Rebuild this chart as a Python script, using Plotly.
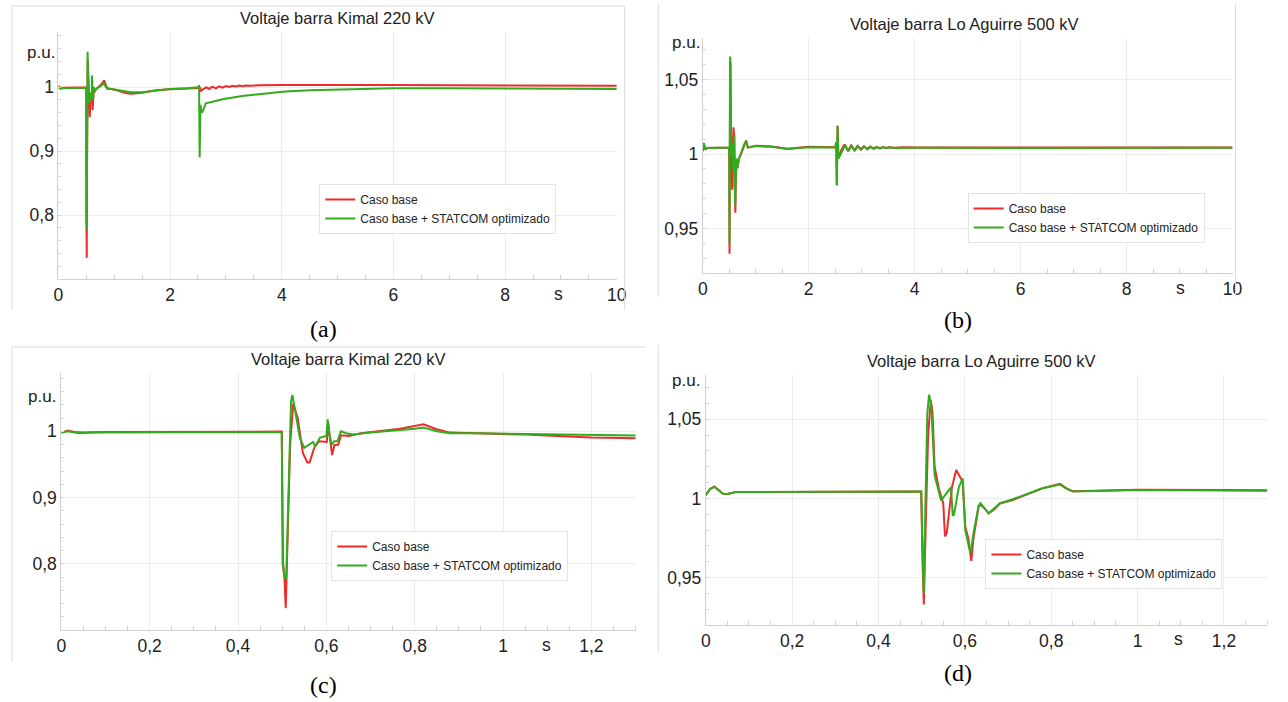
import plotly.graph_objects as go

W, H = 1288, 702

# Kimal 220 kV - Caso base
kimal_t_base = [0, 0.015, 0.03, 0.05, 0.1, 0.3, 0.499, 0.502, 0.505, 0.508, 0.512, 0.518, 0.525, 0.535,
                0.547, 0.557, 0.562, 0.573, 0.584, 0.601, 0.604, 0.608, 0.613, 0.618, 0.627, 0.633, 0.651,
                0.678, 0.767, 0.82, 0.85, 0.88, 0.95, 1.05, 1.2, 1.3, 1.5, 1.75, 2.0, 2.3, 2.52, 2.53, 2.55,
                2.6, 2.65, 2.7, 2.76, 2.82, 2.88, 2.94, 3.0, 3.06, 3.12, 3.18, 3.24, 3.30, 3.36, 3.45, 3.6,
                4.0, 4.3, 5.0, 6.0, 7.0, 8.0, 10.0]
kimal_v_base = [0.998, 1.001, 0.999, 0.998, 0.999, 0.9995, 0.9995, 0.80, 0.78, 0.733, 0.85, 0.98, 1.042, 1.02,
                0.967, 0.953, 0.953, 0.976, 0.985, 0.984, 1.012, 0.99, 0.964, 0.979, 0.98, 0.994, 0.993,
                0.997, 1.004, 1.0106, 1.003, 0.998, 0.997, 0.995, 0.9905, 0.9895, 0.991, 0.995, 0.9965, 0.997,
                0.9985, 1.0, 0.994, 0.997, 0.9995, 0.997, 1.0005, 0.998, 1.001, 0.999, 1.0015, 1.0, 1.002,
                1.0008, 1.0023, 1.0013, 1.0025, 1.002, 1.0028, 1.003, 1.0033, 1.0031, 1.003, 1.0027, 1.0024,
                1.002]

# Kimal 220 kV - Caso base + STATCOM optimizado
kimal_t_stat = [0, 0.015, 0.04, 0.07, 0.3, 0.499, 0.501, 0.505, 0.509, 0.514, 0.52, 0.523, 0.53, 0.54, 0.55,
                0.56, 0.57, 0.575, 0.585, 0.6, 0.603, 0.607, 0.612, 0.618, 0.625, 0.633, 0.645, 0.66, 0.7, 0.8,
                0.82, 0.85, 0.88, 0.95, 1.1, 1.3, 1.5, 1.75, 2.0, 2.3, 2.5, 2.52, 2.53, 2.545, 2.56, 2.58, 2.64,
                2.76, 2.94, 3.29, 3.6, 4.06, 4.5, 5.24, 6.0, 7.0, 8.0, 10.0]
kimal_v_stat = [0.998, 1.0, 0.997, 0.998, 0.9985, 0.9985, 0.80, 0.78, 0.777, 0.90, 1.045, 1.055, 1.03, 0.99,
                0.975, 0.979, 0.984, 0.977, 0.99, 0.993, 1.018, 0.995, 0.98, 0.985, 0.985, 1.0, 0.997, 0.995,
                0.998, 1.004, 1.0056, 1.0, 0.997, 0.997, 0.995, 0.992, 0.992, 0.995, 0.997, 0.998, 0.9995,
                1.003, 0.89, 0.972, 0.962, 0.961, 0.9745, 0.977, 0.981, 0.986, 0.989, 0.993, 0.995, 0.997,
                0.998, 0.9982, 0.998, 0.997]

# Lo Aguirre 500 kV - Caso base
aguirre_t_base = [0, 0.01, 0.02, 0.03, 0.04, 0.05, 0.07, 0.1, 0.3, 0.499, 0.502, 0.505, 0.51, 0.515, 0.521,
                  0.525, 0.53, 0.54, 0.55, 0.554, 0.558, 0.57, 0.58, 0.595, 0.601, 0.608, 0.615, 0.62, 0.632,
                  0.636, 0.645, 0.655, 0.668, 0.681, 0.711, 0.78, 0.82, 0.835, 0.85, 0.9, 1.0, 1.2, 1.3, 1.6,
                  2.0, 2.5, 2.52, 2.53, 2.545, 2.56, 2.62, 2.68, 2.74, 2.80, 2.86, 2.92, 2.98, 3.04, 3.10,
                  3.16, 3.22, 3.28, 3.34, 3.40, 3.46, 3.52, 3.6, 3.8, 4.0, 6.0, 8.0, 10.0]
aguirre_v_base = [1.002, 1.006, 1.0075, 1.0055, 1.003, 1.0028, 1.004, 1.004, 1.0043, 1.0043, 0.96, 0.933,
                  0.99, 1.04, 1.062, 1.055, 1.02, 1.006, 0.997, 0.976, 0.978, 1.007, 1.018, 1.0105, 0.982,
                  0.975, 0.9605, 0.975, 0.995, 0.996, 0.994, 0.9906, 0.993, 0.9968, 0.999, 1.0064, 1.0092,
                  1.0065, 1.0045, 1.0048, 1.0055, 1.0053, 1.005, 1.0035, 1.0048, 1.0045, 1.008, 0.979, 1.019,
                  0.997, 1.003, 1.0065, 1.002, 1.0058, 1.0025, 1.0055, 1.003, 1.0052, 1.0033, 1.005, 1.0036,
                  1.0048, 1.0038, 1.0047, 1.004, 1.0046, 1.0042, 1.0045, 1.0044, 1.0043, 1.0044, 1.0044]

# Lo Aguirre 500 kV - Caso base + STATCOM optimizado
aguirre_t_stat = [0, 0.01, 0.02, 0.03, 0.04, 0.05, 0.07, 0.1, 0.3, 0.499, 0.502, 0.505, 0.509, 0.513, 0.517,
                  0.522, 0.53, 0.545, 0.568, 0.572, 0.575, 0.586, 0.595, 0.601, 0.613, 0.62, 0.632, 0.636,
                  0.655, 0.681, 0.711, 0.78, 0.82, 0.835, 0.85, 1.0, 1.3, 1.6, 2.0, 2.5, 2.52, 2.53, 2.545,
                  2.56, 2.63, 2.69, 2.75, 2.81, 2.87, 2.93, 2.99, 3.05, 3.11, 3.17, 3.23, 3.29, 3.35, 3.41,
                  3.47, 3.53, 3.6, 3.8, 4.0, 6.0, 8.0, 10.0]
aguirre_v_stat = [1.002, 1.006, 1.0072, 1.0053, 1.003, 1.0028, 1.004, 1.004, 1.0043, 1.0043, 0.97, 0.94,
                  1.0, 1.053, 1.0656, 1.06, 1.0146, 0.9987, 1.007, 0.989, 0.99, 1.007, 1.0127, 0.98, 0.965,
                  0.978, 0.9955, 0.997, 0.9906, 0.9968, 0.9995, 1.0064, 1.0088, 1.0062, 1.0043, 1.0053,
                  1.0048, 1.0034, 1.0046, 1.0044, 1.008, 0.979, 1.019, 0.997, 1.0025, 1.006, 1.0018, 1.0056,
                  1.0024, 1.0053, 1.003, 1.005, 1.0032, 1.0048, 1.0035, 1.0047, 1.0037, 1.0046, 1.0039,
                  1.0045, 1.0041, 1.0043, 1.0042, 1.0041, 1.0042, 1.0042]

name_base = "Caso base"
name_stat = "Caso base + STATCOM optimizado"
titles = ["Voltaje barra Kimal 220 kV", "Voltaje barra Lo Aguirre 500 kV",
          "Voltaje barra Kimal 220 kV", "Voltaje barra Lo Aguirre 500 kV"]
captions = ["(a)", "(b)", "(c)", "(d)"]
y_ticks = [[0.8, 0.9, 1], [0.95, 1, 1.05], [0.8, 0.9, 1], [0.95, 1, 1.05]]

RED = "#ee2b2b"
GREEN = "#33ab1f"
FONT = "Liberation Sans, Arial, sans-serif"


def fx(p):
    return p / W


def fy(p):
    return 1 - p / H


# plot areas in pixels: x0, x1, ytop, ybottom
areas = [(54, 619, 32, 279), (706, 1242, 38, 273), (57, 638, 373, 630), (709, 1277, 375, 625)]
xranges = [[0, 10], [0, 10], [0, 1.3], [0, 1.3]]
yranges = [[0.7, 1.086], [0.92, 1.078], [0.7, 1.088], [0.92, 1.078]]
xdticks = [2, 2, 0.2, 0.2]
xminor = [0.5, 0.5, 0.05, 0.05]
yminor = [0.02, 0.01, 0.02, 0.01]

data_sets = [
    (kimal_t_base, kimal_v_base, kimal_t_stat, kimal_v_stat),
    (aguirre_t_base, aguirre_v_base, aguirre_t_stat, aguirre_v_stat),
    (kimal_t_base, kimal_v_base, kimal_t_stat, kimal_v_stat),
    (aguirre_t_base, aguirre_v_base, aguirre_t_stat, aguirre_v_stat),
]

fig = go.Figure()
for i, (tb, vb, ts, vs) in enumerate(data_sets):
    sfx = "" if i == 0 else str(i + 1)
    leg = "legend" if i == 0 else f"legend{i + 1}"
    fig.add_trace(go.Scatter(x=tb, y=vb, mode="lines", name=name_base, line=dict(color=RED, width=2),
                             xaxis="x" + sfx, yaxis="y" + sfx, legend=leg))
    fig.add_trace(go.Scatter(x=ts, y=vs, mode="lines", name=name_stat, line=dict(color=GREEN, width=2),
                             xaxis="x" + sfx, yaxis="y" + sfx, legend=leg))

axis_common = dict(showline=True, linecolor="#cfcfcf", linewidth=1, gridcolor="#ececec", zeroline=False,
                   ticks="", tickfont=dict(size=17.5, color="#222", family=FONT))
layout = {}
for i, (x0, x1, yt, yb) in enumerate(areas):
    sfx = "" if i == 0 else str(i + 1)
    layout["xaxis" + sfx] = dict(axis_common, domain=[fx(x0), fx(x1)], range=xranges[i], dtick=xdticks[i],
                                 tick0=0, anchor="y" + sfx,
                                 minor=dict(ticks="inside", ticklen=4, tickcolor="#d0d0d0", dtick=xminor[i],
                                            showgrid=False))
    layout["yaxis" + sfx] = dict(axis_common, domain=[fy(yb), fy(yt)], range=yranges[i],
                                 tickvals=y_ticks[i], anchor="x" + sfx,
                                 minor=dict(ticks="inside", ticklen=3, tickcolor="#d8d8d8", dtick=yminor[i],
                                            tick0=0, showgrid=False))

# legends
legend_pos = [(318, 184), (974, 193), (330, 531), (992, 539)]
for i, (lx, ly) in enumerate(legend_pos):
    key = "legend" if i == 0 else f"legend{i + 1}"
    layout[key] = dict(x=fx(lx), y=fy(ly), xanchor="left", yanchor="top", bgcolor="white",
                       bordercolor="#e3e3e3", borderwidth=1, itemwidth=30,
                       font=dict(size=12, color="#222", family=FONT))

annotations = []
title_pos = [(336, 18), (970, 24), (347, 359), (987, 361)]
pu_pos = [(53, 52), (705, 42), (54, 396), (705, 381)]
s_pos = [(560, 294), (1189, 288), (548, 645), (1187, 639)]
cap_pos = [(322, 329), (964, 320), (322, 685), (964, 673)]
for i in range(4):
    annotations.append(dict(x=fx(title_pos[i][0]), y=fy(title_pos[i][1]), xref="paper", yref="paper",
                            text=titles[i], showarrow=False, xanchor="center", yanchor="middle",
                            font=dict(size=16.5, color="#222", family=FONT)))
    annotations.append(dict(x=fx(pu_pos[i][0]), y=fy(pu_pos[i][1]), xref="paper", yref="paper",
                            text="p.u.", showarrow=False, xanchor="right", yanchor="middle",
                            font=dict(size=17, color="#222", family=FONT)))
    annotations.append(dict(x=fx(s_pos[i][0]), y=fy(s_pos[i][1]), xref="paper", yref="paper",
                            text="s", showarrow=False, xanchor="center", yanchor="middle",
                            font=dict(size=17.5, color="#222", family=FONT)))
    annotations.append(dict(x=fx(cap_pos[i][0]), y=fy(cap_pos[i][1]), xref="paper", yref="paper",
                            text=captions[i], showarrow=False, xanchor="center", yanchor="middle",
                            font=dict(size=24, color="black", family="Liberation Serif, Times New Roman, serif")))

# light frames around the panels
frame_lines = [
    (7, 6, 627, 6), (7, 6, 7, 310), (627, 6, 627, 310),
    (661, 4, 661, 297), (1245, 4, 1245, 297),
    (7, 347, 648, 347), (7, 347, 7, 662),
    (661, 345, 661, 653),
]
shapes = [dict(type="line", xref="paper", yref="paper", x0=fx(a), y0=fy(b), x1=fx(c), y1=fy(d),
               line=dict(color="#dcdcdc", width=1)) for a, b, c, d in frame_lines]

fig.update_layout(**layout)
fig.update_layout(width=W, height=H, margin=dict(l=0, r=0, t=0, b=0), paper_bgcolor="white",
                  plot_bgcolor="white", separators=",.", annotations=annotations, shapes=shapes,
                  font=dict(family=FONT))

# drop the browser's default body margin so the figure sits at the page origin
fig.write_html("out.html", config={"displayModeBar": False},
               post_script="document.body.style.margin='0';")
